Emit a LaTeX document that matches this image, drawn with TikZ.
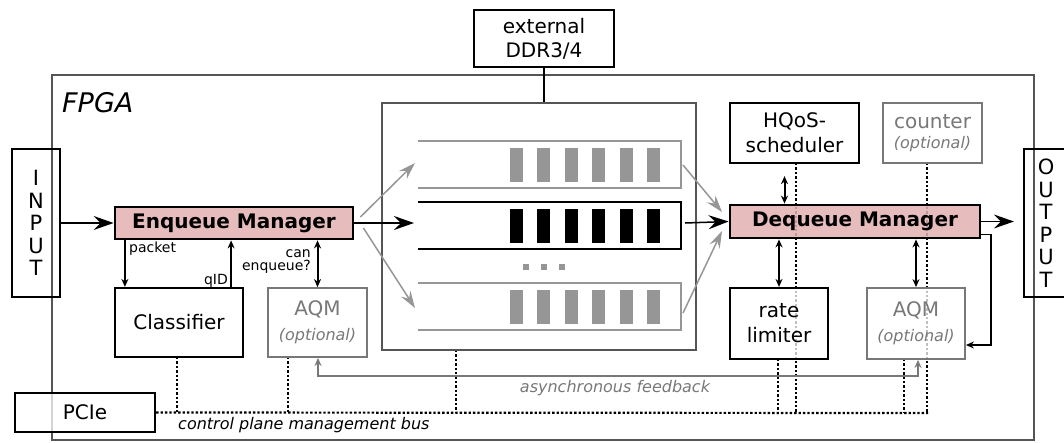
\documentclass[tikz,border=0pt]{standalone}
\usepackage{fontspec}
\setmainfont{DejaVu Sans}
\usetikzlibrary{arrows.meta,positioning}

\definecolor{mgrpink}{RGB}{226,176,176}
\definecolor{optgray}{RGB}{120,120,120}
\definecolor{qgray}{RGB}{150,150,150}
\definecolor{framegray}{RGB}{85,85,85}

\tikzset{
    blk/.style={draw, line width=2.2pt, fill=white, fill opacity=.75, text opacity=1,
        align=center, inner sep=0pt, font=\fontsize{20}{25}\selectfont},
    optblk/.style={blk, draw=optgray, text=optgray, line width=1.8pt},
    mgr/.style={draw, line width=2.8pt, fill=mgrpink, fill opacity=.85, text opacity=1,
        inner sep=0pt, font=\bfseries\fontsize{20}{24}\selectfont},
    io/.style={draw, line width=2.2pt, inner sep=0pt, align=center,
        font=\fontsize{21}{22.5}\selectfont},
    flow/.style={-{Stealth[length=20pt,width=14pt,inset=7pt]}, line width=1.5pt},
    gflow/.style={-{Stealth[length=17pt,width=11pt,inset=6pt]}, line width=1.5pt, qgray},
    small/.style={-{Stealth[length=8pt,width=7pt]}, line width=1.5pt},
    both/.style={{Stealth[length=8pt,width=7pt]}-{Stealth[length=8pt,width=7pt]}, line width=2pt},
    ctrl/.style={line width=2.2pt, dash pattern=on 2.4pt off 2pt},
    lbl/.style={inner sep=0pt, font=\fontsize{14}{13}\selectfont},
    note/.style={inner sep=0pt, font=\itshape\fontsize{16}{16}\selectfont},
}

\newcommand{\opt}{{\itshape\fontsize{16}{18}\selectfont(optional)}}

\begin{document}
\begin{tikzpicture}[x=1pt,y=-1pt]
    \useasboundingbox (0,0) rectangle (1064,442);

    % FPGA frame
    \node[draw=framegray, line width=1.6pt, minimum width=982pt, minimum height=365pt,
        inner sep=0pt] (fpga) at (543,257.5) {};
    \node[anchor=north west, inner sep=0pt, font=\itshape\fontsize{27}{27}\selectfont]
        (fpgalbl) at (62,92) {FPGA};

    % control plane bus and its taps
    \coordinate (busend) at (928,413);
    \coordinate (clstap) at (177,357);
    \coordinate (aqmtap) at (288,357);
    \coordinate (memtap) at (456,350);
    \coordinate (hqostap) at (796,163);
    \coordinate (aqmotap) at (904,359);
    \coordinate (cnttap) at (927,163);
    \coordinate (ratetap) at (778,359);
    \foreach \t in {clstap,aqmtap,memtap,hqostap,aqmotap,cnttap,ratetap}
        \draw[ctrl] (\t) -- (\t |- busend);

    % boxes
    \node[io, minimum width=48pt, minimum height=148pt] (input) at (36,223) {I\\N\\P\\U\\T};
    \node[io, minimum width=44pt, minimum height=148pt] (output) at (1046,223) {O\\U\\T\\P\\U\\T};
    \node[blk, minimum width=140pt, minimum height=57pt, font=\fontsize{20}{24}\selectfont]
        (ddr) at (544,38.5) {external\\DDR3/4};
    \node[draw=framegray, line width=2pt, minimum width=314pt, minimum height=247pt,
        inner sep=0pt] (mem) at (539,226.5) {};
    \node[mgr, minimum width=238pt, minimum height=32pt] (enq) at (234,223) {Enqueue Manager};
    \node[mgr, minimum width=250pt, minimum height=33pt] (deq) at (855,221.5) {Dequeue Manager};
    \node[blk, minimum width=128pt, minimum height=69pt] (cls) at (179,322.5) {Classifier};
    \node[optblk, minimum width=99pt, minimum height=69pt] (aqmin) at (317.5,322.5) {AQM\\\opt};
    \node[blk, minimum width=129pt, minimum height=60pt] (hqos) at (794.5,133) {HQoS-\\scheduler};
    \node[optblk, minimum width=99pt, minimum height=60pt, font=\fontsize{20}{20}\selectfont]
        (counter) at (932.5,133) {counter\\\opt};
    \node[blk, minimum width=98pt, minimum height=71pt] (rate) at (779,323.5) {rate\\limiter};
    \node[optblk, minimum width=98pt, minimum height=71pt] (aqmout) at (916,323.5) {AQM\\\opt};
    \node[blk, minimum width=140pt, minimum height=39pt] (pcie) at (85,412.5) {PCIe};

    \draw[ctrl] (pcie.east) -- (busend);
    \node[note, anchor=west] (buslbl) at (178,425) {control plane management bus};

    % queues
    \foreach \top/\col/\lw in {141/qgray/2pt, 202/black/2.8pt, 283/qgray/2pt} {
        \draw[\col, line width=\lw] (418,\top) -- (681,\top) -- (681,\top+47) -- (418,\top+47);
        \foreach \i in {0,...,5}
            \fill[\col] (510+27.4*\i,\top+7) rectangle ++(13,34);
    }
    \foreach \i in {0,...,2}
        \fill[qgray] (523+18*\i,264) rectangle ++(6,6);

    \draw[line width=1.8pt] (ddr.south) -- (ddr.south |- mem.north);

    % data path
    \coordinate (q1in) at (415,163);
    \coordinate (q2in) at (414,223);
    \coordinate (q3in) at (415,308);
    \coordinate (q1out) at (683,165);
    \coordinate (q2out) at (685,223);
    \coordinate (q3out) at (683,313);
    \coordinate (d1) at (722,212);
    \coordinate (d3) at (722,231);
    \draw[flow] (input.east |- enq.west) -- (enq.west);
    \draw[flow] (enq.east) -- (q2in);
    \draw[gflow] ([shift={(6pt,6pt)}]enq.east) -- (q1in);
    \draw[gflow] ([shift={(9pt,-5pt)}]enq.east) -- (q3in);
    \draw[gflow] (q1out) -- (d1);
    \draw[flow] (q2out) -- (deq.west);
    \draw[gflow] (q3out) -- (d3);
    \draw[flow, shorten >=9pt] (deq.east) -- (output.west |- deq.east);

    % enqueue side
    \coordinate (pk) at ([xshift=11pt]cls.north west);
    \coordinate (qd) at ([xshift=-13pt]cls.north east);
    \draw[small] (pk |- enq.south) -- (pk);
    \draw[small] (qd) -- (qd |- enq.south);
    \draw[both] (aqmin.north) -- (aqmin.north |- enq.south);
    \node[lbl, anchor=west] (pklbl) at (129,249) {packet};
    \node[lbl, anchor=east] (qdlbl) at (228,281) {qID};
    \node[lbl, anchor=east, align=right] (canlbl) at (311,262) {can\\enqueue?};

    % dequeue side
    \coordinate (hq) at ([xshift=-10pt]hqos.south);
    \draw[both, shorten <=12pt] (hq) -- (hq |- deq.north);
    \draw[both] (rate.north) -- (rate.north |- deq.south);
    \draw[both] (aqmout.north) -- (aqmout.north |- deq.south);
    \coordinate (fbk) at (991,345);
    \draw[small] ([yshift=5pt]deq.south east) -| (fbk) -- (aqmout.east |- fbk);

    % asynchronous feedback
    \coordinate (fbl) at (318,376);
    \coordinate (fbr) at (918,376);
    \draw[optgray, line width=1.4pt, {Stealth[length=8pt,width=7pt]}-{Stealth[length=8pt,width=7pt]}]
        (aqmin.south -| fbl) -- (fbl) -- (fbr) -- (aqmout.south -| fbr);
    \node[note, text=optgray] (fblbl) at (615,388) {asynchronous feedback};
\end{tikzpicture}
\end{document}
